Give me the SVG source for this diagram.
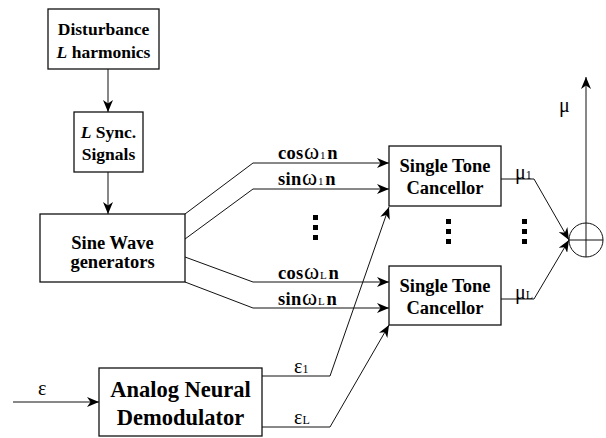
<svg xmlns="http://www.w3.org/2000/svg" width="606" height="438" viewBox="0 0 606 438">
  <defs>
    <marker id="arrow" viewBox="0 0 12 10" refX="12" refY="5" markerWidth="12" markerHeight="10" markerUnits="userSpaceOnUse" orient="auto">
      <path d="M0,0 L12,5 L0,10 L3.5,5 z" fill="#000"/>
    </marker>
    <style>
      .box { fill: #fff; stroke: #111; stroke-width: 1.3; }
      .wire { fill: none; stroke: #111; stroke-width: 1; }
      .arr { marker-end: url(#arrow); }
      .lbl { font-family: "Liberation Serif", "Times New Roman", serif; font-weight: bold; fill: #000; text-anchor: middle; }
      .sig { font-family: "Liberation Serif", "Times New Roman", serif; font-weight: bold; font-size: 18.5px; fill: #000; letter-spacing: 0.3px; }
      .greek { font-family: "Liberation Serif", "Times New Roman", serif; font-weight: normal; fill: #000; }
      .om { font-size: 23px; font-weight: normal; }
      .sub { font-size: 11px; font-weight: normal; }
      .dot { fill: #000; }
    </style>
  </defs>

  <!-- connectors -->
  <g id="connectors">
    <line class="wire arr" x1="108" y1="69" x2="108" y2="112"/>
    <line class="wire arr" x1="108" y1="172" x2="108" y2="214"/>
    <polyline class="wire arr" points="185,214 253,163 389,163"/>
    <polyline class="wire arr" points="185,239 253,189 389,189"/>
    <polyline class="wire arr" points="185,257 253,282 389,282"/>
    <polyline class="wire arr" points="185,282 253,308 389,308"/>
    <line class="wire arr" x1="13" y1="402" x2="99" y2="402"/>
    <polyline class="wire arr" points="262,376 330,376 389,207"/>
    <polyline class="wire arr" points="262,427 330,427 389,325"/>
    <polyline class="wire arr" points="501,179 534,179 569,240"/>
    <polyline class="wire arr" points="501,299 534,299 569,240"/>
    <line class="wire arr" x1="586" y1="257" x2="586" y2="77"/>
  </g>

  <!-- signal labels -->
  <g id="labels">
    <text class="sig" x="278" y="159">cos<tspan class="om" dx="0.5">ω</tspan><tspan class="sub" dx="0.5">1</tspan><tspan dx="1.5">n</tspan></text>
    <text class="sig" x="278" y="185">sin<tspan class="om" dx="0.5">ω</tspan><tspan class="sub" dx="0.5">1</tspan><tspan dx="1.5">n</tspan></text>
    <text class="sig" x="278" y="279">cos<tspan class="om" dx="0.5">ω</tspan><tspan class="sub" dx="0.5">L</tspan><tspan dx="1.5">n</tspan></text>
    <text class="sig" x="278" y="305">sin<tspan class="om" dx="0.5">ω</tspan><tspan class="sub" dx="0.5">L</tspan><tspan dx="1.5">n</tspan></text>
    <text class="greek" x="38" y="395" font-size="20">ε</text>
    <text class="greek" x="294" y="373" font-size="20">ε<tspan font-size="12">1</tspan></text>
    <text class="greek" x="294" y="424" font-size="20">ε<tspan font-size="12">L</tspan></text>
    <text class="greek" x="515" y="179" font-size="20">μ<tspan font-size="12">1</tspan></text>
    <text class="greek" x="515" y="299" font-size="20">μ<tspan font-size="12">L</tspan></text>
    <text class="greek" x="559" y="112" font-size="20">μ</text>
  </g>

  <!-- continuation dots -->
  <g id="dots">
    <rect class="dot" x="313" y="215" width="5" height="5"/>
    <rect class="dot" x="313" y="225" width="5" height="5"/>
    <rect class="dot" x="313" y="235" width="5" height="5"/>
    <rect class="dot" x="446" y="219" width="5" height="5"/>
    <rect class="dot" x="446" y="229" width="5" height="5"/>
    <rect class="dot" x="446" y="239" width="5" height="5"/>
    <rect class="dot" x="522" y="219" width="5" height="5"/>
    <rect class="dot" x="522" y="229" width="5" height="5"/>
    <rect class="dot" x="522" y="239" width="5" height="5"/>
  </g>

  <g id="disturbance">
    <rect class="box" x="48" y="9" width="111" height="60"/>
    <text class="lbl" x="103.5" y="35" font-size="17.5">Disturbance</text>
    <text class="lbl" x="103.5" y="58" font-size="17.5"><tspan font-style="italic">L</tspan> harmonics</text>
  </g>

  <g id="sync">
    <rect class="box" x="74" y="112" width="69" height="60"/>
    <text class="lbl" x="108.5" y="138" font-size="17.5"><tspan font-style="italic">L</tspan> Sync.</text>
    <text class="lbl" x="108.5" y="160" font-size="17.5">Signals</text>
  </g>

  <g id="sinewave">
    <rect class="box" x="40" y="214" width="145" height="68"/>
    <text class="lbl" x="112.5" y="249" font-size="18.5">Sine Wave</text>
    <text class="lbl" x="112.5" y="268" font-size="18.5">generators</text>
  </g>

  <g id="canceller1">
    <rect class="box" x="389" y="146" width="112" height="60"/>
    <text class="lbl" x="445" y="172" font-size="18.5">Single Tone</text>
    <text class="lbl" x="445" y="194" font-size="18.5">Cancellor</text>
  </g>

  <g id="cancellerL">
    <rect class="box" x="389" y="266" width="112" height="59"/>
    <text class="lbl" x="445" y="292" font-size="18.5">Single Tone</text>
    <text class="lbl" x="445" y="314" font-size="18.5">Cancellor</text>
  </g>

  <g id="demodulator">
    <rect class="box" x="99" y="368" width="163" height="68"/>
    <text class="lbl" x="180.5" y="397" font-size="22.5">Analog Neural</text>
    <text class="lbl" x="180.5" y="425" font-size="22.5">Demodulator</text>
  </g>

  <g id="summer">
    <circle cx="586" cy="240" r="17" fill="none" stroke="#111" stroke-width="1"/>
    <line class="wire" x1="569" y1="240" x2="603" y2="240"/>
  </g>
</svg>
